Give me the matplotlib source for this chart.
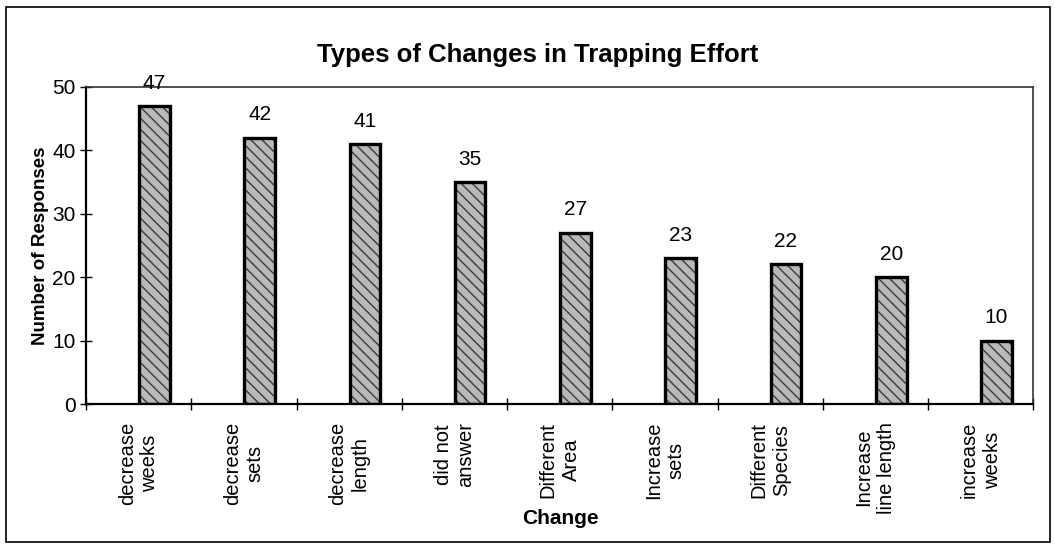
import numpy as np
import matplotlib.pyplot as plt
from matplotlib.patches import Rectangle

categories = ["decrease\nweeks", "decrease\nsets", "decrease\nlength", "did not\nanswer",
              "Different\nArea", "Increase\nsets", "Different\nSpecies",
              "Increase\nline length", "increase\nweeks"]
responses = [47, 42, 41, 35, 27, 23, 22, 20, 10]

plt.rcParams["font.family"] = ["Liberation Sans", "DejaVu Sans"]

fig = plt.figure(figsize=(10.55, 5.46), dpi=100)
ax = fig.add_axes([0.0815, 0.26, 0.898, 0.581])

# outer frame around the whole chart
fig.patches.append(Rectangle((0.006, 0.007), 0.989, 0.98, transform=fig.transFigure,
                             fill=False, edgecolor="black", linewidth=1.2))

x = np.arange(len(categories))
# bars sit in the right part of each category slot
ax.bar(x + 0.65, responses, width=0.29, color="#b9b9b9", edgecolor="#3a3a3a",
       hatch="\\\\\\", linewidth=0, zorder=2)
ax.bar(x + 0.65, responses, width=0.29, fill=False, edgecolor="black",
       linewidth=2.4, zorder=3)

for xi, v in zip(x, responses):
    ax.text(xi + 0.65, v + 3.6, str(v), ha="center", va="center", fontsize=15)

ax.set_xlim(0, len(categories))
ax.set_ylim(0, 50)
ax.set_yticks(range(0, 51, 10))
ax.set_xticks(np.arange(len(categories) + 1))
ax.set_xticklabels([])
ax.tick_params(axis="both", direction="inout", length=9, width=1, labelsize=15)
ax.tick_params(axis="y", pad=3)

for xi, lab in zip(x, categories):
    ax.text(xi + 0.5, -2.8, lab, rotation=90, ha="center", va="top",
            multialignment="center", fontsize=14.5, linespacing=1.25)

for side in ["left", "bottom"]:
    ax.spines[side].set_linewidth(1.6)
for side in ["top", "right"]:
    ax.spines[side].set_linewidth(1.2)
    ax.spines[side].set_color("#333333")

ax.set_ylabel("Number of Responses", fontsize=13.5, fontweight="bold", labelpad=2)
fig.text(0.531, 0.051, "Change", ha="center", va="center", fontsize=15, fontweight="bold")
fig.text(0.51, 0.9, "Types of Changes in Trapping Effort", ha="center", va="center",
         fontsize=18.5, fontweight="bold")

fig.savefig("out.png", dpi=100)
